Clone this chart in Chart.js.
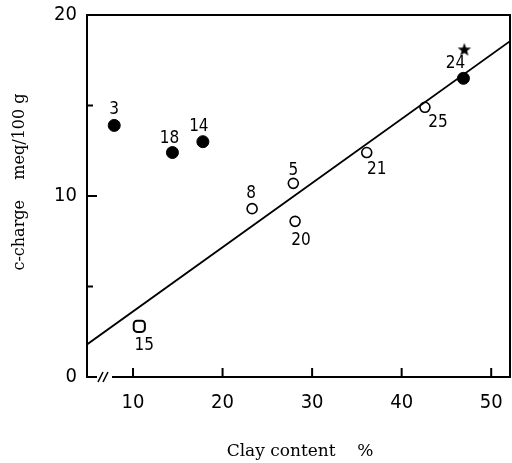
<!DOCTYPE html>
<html lang="en">
<head>
    <meta charset="UTF-8">
    <title>c-charge vs clay content</title>
    <script src="https://cdn.jsdelivr.net/npm/chart.js@4.4.1/dist/chart.umd.min.js"></script>
    <style>
        body { margin: 0; background: #fff; }
        .chart-box { width: 512px; height: 463px; position: relative; }
    </style>
</head>
<body>
    <div class="chart-box">
        <canvas id="clayChart" width="512" height="463"></canvas>
    </div>

    <script>
        // Data
        const filledX = [7.9, 14.4, 17.8, 46.9];
        const filledY = [13.9, 12.4, 13.0, 16.5];
        const filledLabels = ['3', '18', '14', '24'];

        const openX = [23.3, 27.9, 28.1, 36.1, 42.6];
        const openY = [9.3, 10.7, 8.6, 12.4, 14.9];
        const openLabels = ['8', '5', '20', '21', '25'];

        const squareX = [10.7];
        const squareY = [2.8];
        const squareLabels = ['15'];

        const starX = [47.0];
        const starY = [18.1];

        // regression line end points
        const lineX = [4.86, 52.1];
        const lineY = [1.8, 18.55];

        const xTicks = [10, 20, 30, 40, 50];
        const yTicks = [0, 10, 20];
        const yMinorTicks = [5, 15];

        const xTitle = 'Clay content    %';
        const yTitle = 'c-charge    meq/100 g';

        // label offsets in pixels (dx, dy) for each point label
        const filledOffsets = [[0, -16], [-3, -14], [-4, -15], [-8, -15]];
        const openOffsets = [[-1, -15], [0, -13], [6, 19], [10, 17], [13, 15]];
        const squareOffsets = [[5, 19]];

        const toPoints = (xs, ys) => xs.map((x, i) => ({ x: x, y: ys[i] }));

        // filled star marker
        const starImg = document.createElement('canvas');
        starImg.width = 16;
        starImg.height = 16;
        (function () {
            const c = starImg.getContext('2d');
            c.beginPath();
            for (let i = 0; i < 10; i++) {
                const r = i % 2 === 0 ? 7 : 2.9;
                const a = -Math.PI / 2 + i * Math.PI / 5;
                c.lineTo(8 + r * Math.cos(a), 8.5 + r * Math.sin(a));
            }
            c.closePath();
            c.fillStyle = '#000';
            c.fill();
        })();

        // axes box, inward ticks, axis break, point labels and titles
        const framePlugin = {
            id: 'frame',
            afterDraw(chart) {
                const ctx = chart.ctx;
                const area = chart.chartArea;
                const xs = chart.scales.x;
                const ys = chart.scales.y;
                ctx.save();
                ctx.strokeStyle = '#000';
                ctx.lineWidth = 2;
                ctx.lineCap = 'butt';

                // left, top, right borders
                ctx.beginPath();
                ctx.moveTo(area.left, area.bottom);
                ctx.lineTo(area.left, area.top);
                ctx.lineTo(area.right, area.top);
                ctx.lineTo(area.right, area.bottom);
                ctx.stroke();

                // bottom axis with break
                ctx.beginPath();
                ctx.moveTo(area.left - 1, area.bottom);
                ctx.lineTo(area.left + 10, area.bottom);
                ctx.moveTo(area.left + 25, area.bottom);
                ctx.lineTo(area.right + 1, area.bottom);
                ctx.stroke();

                ctx.lineWidth = 1.6;
                ctx.beginPath();
                ctx.moveTo(area.left + 11, area.bottom + 5);
                ctx.lineTo(area.left + 16, area.bottom - 5);
                ctx.moveTo(area.left + 16, area.bottom + 5);
                ctx.lineTo(area.left + 21, area.bottom - 5);
                ctx.stroke();

                // inward ticks
                ctx.lineWidth = 2;
                ctx.beginPath();
                xTicks.forEach(v => {
                    const px = xs.getPixelForValue(v);
                    ctx.moveTo(px, area.bottom);
                    ctx.lineTo(px, area.bottom - 9);
                });
                [10].forEach(v => {
                    const py = ys.getPixelForValue(v);
                    ctx.moveTo(area.left, py);
                    ctx.lineTo(area.left + 10, py);
                });
                yMinorTicks.forEach(v => {
                    const py = ys.getPixelForValue(v);
                    ctx.moveTo(area.left, py);
                    ctx.lineTo(area.left + 6, py);
                });
                ctx.stroke();

                // point labels
                ctx.fillStyle = '#000';
                ctx.font = '17px "DejaVu Sans Condensed", "DejaVu Sans"';
                ctx.textAlign = 'center';
                ctx.textBaseline = 'middle';
                const drawLabels = (dsIndex, labels, offsets) => {
                    const meta = chart.getDatasetMeta(dsIndex);
                    meta.data.forEach((pt, i) => {
                        ctx.fillText(labels[i], pt.x + offsets[i][0], pt.y + offsets[i][1]);
                    });
                };
                drawLabels(1, filledLabels, filledOffsets);
                drawLabels(2, openLabels, openOffsets);
                drawLabels(3, squareLabels, squareOffsets);

                // axis titles
                ctx.font = '17px "DejaVu Serif"';
                ctx.textBaseline = 'alphabetic';
                ctx.fillText(xTitle, 300, 456);

                ctx.font = '16px "DejaVu Serif"';
                ctx.translate(24, 182);
                ctx.rotate(-Math.PI / 2);
                ctx.fillText(yTitle, 0, 0);
                ctx.restore();
            }
        };

        const ctx = document.getElementById('clayChart').getContext('2d');
        new Chart(ctx, {
            type: 'scatter',
            data: {
                datasets: [{
                    type: 'line',
                    data: toPoints(lineX, lineY),
                    borderColor: '#000',
                    borderWidth: 1.8,
                    pointRadius: 0,
                    fill: false
                }, {
                    data: toPoints(filledX, filledY),
                    backgroundColor: '#000',
                    borderColor: '#000',
                    pointRadius: 6,
                    borderWidth: 1
                }, {
                    data: toPoints(openX, openY),
                    backgroundColor: '#fff',
                    borderColor: '#000',
                    pointRadius: 5,
                    borderWidth: 1.6
                }, {
                    data: toPoints(squareX, squareY),
                    pointStyle: 'rectRounded',
                    backgroundColor: '#fff',
                    borderColor: '#000',
                    pointRadius: 6.5,
                    borderWidth: 2
                }, {
                    data: toPoints(starX, starY),
                    pointStyle: starImg
                }]
            },
            options: {
                responsive: false,
                animation: false,
                layout: { autoPadding: false, padding: { top: 15, right: 2, left: 0, bottom: 0 } },
                plugins: {
                    legend: { display: false },
                    tooltip: { enabled: false }
                },
                scales: {
                    x: {
                        type: 'linear',
                        min: 4.86,
                        max: 52.1,
                        afterBuildTicks: scale => { scale.ticks = xTicks.map(v => ({ value: v })); },
                        afterFit: scale => {
                            scale.height = 86;
                            scale.paddingLeft = 0;
                            scale.paddingRight = 0;
                        },
                        grid: { display: false, drawTicks: false },
                        border: { display: false },
                        ticks: {
                            color: '#000',
                            padding: 14,
                            maxRotation: 0,
                            font: { family: '"DejaVu Sans Condensed", "DejaVu Sans"', size: 20 }
                        }
                    },
                    y: {
                        min: 0,
                        max: 20,
                        afterBuildTicks: scale => { scale.ticks = yTicks.map(v => ({ value: v })); },
                        afterFit: scale => {
                            scale.width = 87;
                            scale.paddingTop = 0;
                            scale.paddingBottom = 0;
                        },
                        grid: { display: false, drawTicks: false },
                        border: { display: false },
                        ticks: {
                            color: '#000',
                            padding: 10,
                            font: { family: '"DejaVu Sans Condensed", "DejaVu Sans"', size: 20 }
                        }
                    }
                }
            },
            plugins: [framePlugin]
        });
    </script>
</body>
</html>
